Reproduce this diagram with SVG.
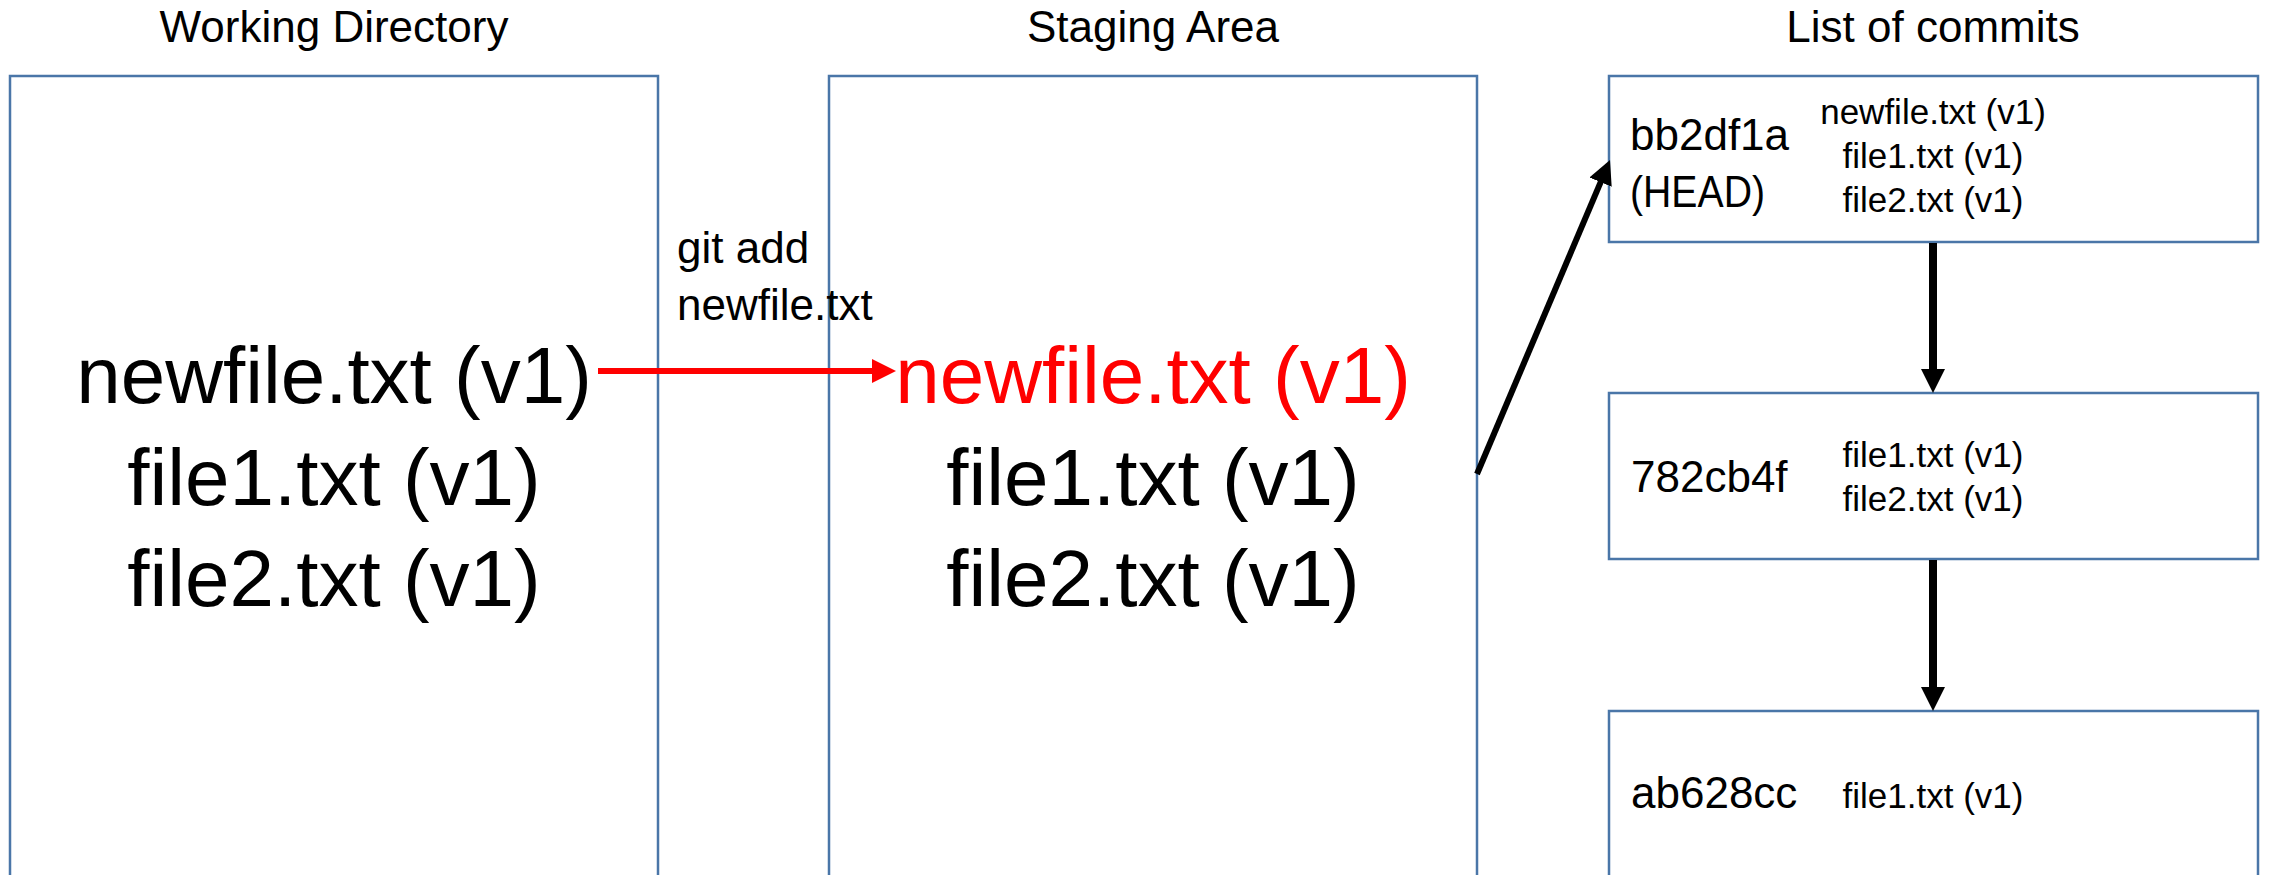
<svg xmlns="http://www.w3.org/2000/svg" width="2269" height="875" viewBox="0 0 2269 875">
  <style>
    .box { fill: #ffffff; stroke: #4A76A8; stroke-width: 2.5; }
    .t { font-family: "Liberation Sans", Arial, sans-serif; fill: #000000; }
    .title { font-size: 44px; text-anchor: middle; }
    .big { font-size: 80px; text-anchor: middle; }
    .hash { font-size: 44px; }
    .small { font-size: 35px; text-anchor: middle; }
    .red { fill: #FF0000; }
    .conn { fill: none; stroke: #000000; }
  </style>
  <defs>
    <marker id="ahBlack" markerUnits="userSpaceOnUse" markerWidth="24" markerHeight="24" refX="2" refY="12" orient="auto" viewBox="0 0 24 24">
      <path d="M0,0 L24,12 L0,24 z" fill="#000000"/>
    </marker>
    <marker id="ahRed" markerUnits="userSpaceOnUse" markerWidth="24" markerHeight="24" refX="2" refY="12" orient="auto" viewBox="0 0 24 24">
      <path d="M0,0 L24,12 L0,24 z" fill="#FF0000"/>
    </marker>
  </defs>
  <rect width="2269" height="875" fill="#ffffff"/>

  <g id="working-directory">
    <text class="t title" x="334" y="42">Working Directory</text>
    <rect class="box" x="10" y="76" width="648" height="830"/>
    <text class="t big" x="334" y="403">newfile.txt (v1)</text>
    <text class="t big" x="334" y="505">file1.txt (v1)</text>
    <text class="t big" x="334" y="606">file2.txt (v1)</text>
  </g>

  <g id="staging-area">
    <text class="t title" x="1153" y="42">Staging Area</text>
    <rect class="box" x="829" y="76" width="648" height="830"/>
    <text class="t big red" x="1153" y="403">newfile.txt (v1)</text>
    <text class="t big" x="1153" y="505">file1.txt (v1)</text>
    <text class="t big" x="1153" y="606">file2.txt (v1)</text>
  </g>

  <g id="list-title">
    <text class="t title" x="1933" y="42">List of commits</text>
  </g>

  <g id="commit-bb2df1a">
    <rect class="box" x="1609" y="76" width="649" height="166"/>
    <text class="t hash" x="1630" y="150">bb2df1a</text>
    <text class="t hash" x="1630" y="207" textLength="135" lengthAdjust="spacingAndGlyphs">(HEAD)</text>
    <text class="t small" x="1933" y="124">newfile.txt (v1)</text>
    <text class="t small" x="1933" y="168">file1.txt (v1)</text>
    <text class="t small" x="1933" y="212">file2.txt (v1)</text>
  </g>

  <g id="commit-782cb4f">
    <rect class="box" x="1609" y="393" width="649" height="166"/>
    <text class="t hash" x="1631" y="492">782cb4f</text>
    <text class="t small" x="1933" y="467">file1.txt (v1)</text>
    <text class="t small" x="1933" y="511">file2.txt (v1)</text>
  </g>

  <g id="commit-ab628cc">
    <rect class="box" x="1609" y="711" width="649" height="200"/>
    <text class="t hash" x="1631" y="808">ab628cc</text>
    <text class="t small" x="1933" y="808">file1.txt (v1)</text>
  </g>

  <g id="connectors">
    <line x1="598" y1="371" x2="874" y2="371" stroke="#FF0000" stroke-width="6" marker-end="url(#ahRed)"/>
    <text class="t" font-size="44" x="677" y="263">git add</text>
    <text class="t" font-size="44" x="677" y="320">newfile.txt</text>
    <line class="conn" x1="1477" y1="474" x2="1601.4" y2="180.3" stroke-width="6" marker-end="url(#ahBlack)"/>
    <line class="conn" x1="1933" y1="243" x2="1933" y2="371" stroke-width="8" marker-end="url(#ahBlack)"/>
    <line class="conn" x1="1933" y1="560" x2="1933" y2="689" stroke-width="8" marker-end="url(#ahBlack)"/>
  </g>
</svg>
